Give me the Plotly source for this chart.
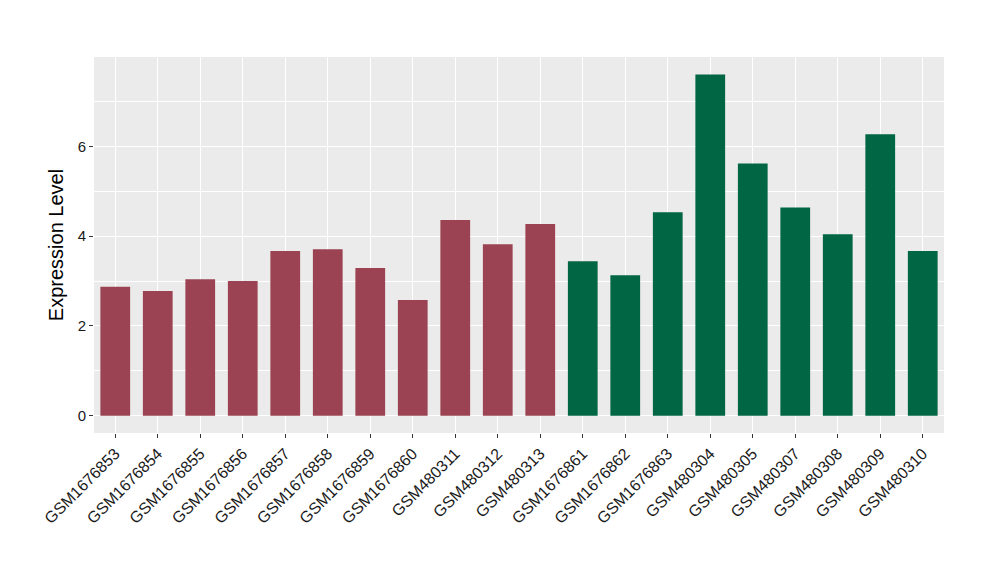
import plotly.graph_objects as go

samples = ["GSM1676853","GSM1676854","GSM1676855","GSM1676856","GSM1676857","GSM1676858",
           "GSM1676859","GSM1676860","GSM480311","GSM480312","GSM480313","GSM1676861",
           "GSM1676862","GSM1676863","GSM480304","GSM480305","GSM480307","GSM480308",
           "GSM480309","GSM480310"]
values = [2.87, 2.78, 3.04, 3.00, 3.67, 3.71, 3.29, 2.58, 4.36, 3.82, 4.27,
          3.44, 3.13, 4.53, 7.60, 5.62, 4.64, 4.04, 6.27, 3.67]
groups = ["A"] * 11 + ["B"] * 9
group_colors = {"A": "#9B4352", "B": "#006644"}

fig = go.Figure()
fig.add_trace(go.Bar(
    x=samples, y=values, width=0.7,
    marker=dict(color=[group_colors[g] for g in groups], line=dict(width=0)),
    showlegend=False,
))
fig.update_layout(
    width=1000, height=580,
    margin=dict(l=86, r=64, t=49, b=155),
    paper_bgcolor="white", plot_bgcolor="#EBEBEB",
    font=dict(family="Liberation Sans, Arial, sans-serif", color="black"),
    bargap=0.3,
)
fig.update_xaxes(
    type="category", tickangle=-45, tickfont=dict(size=16, color="#1A1A1A"),
    showgrid=True, gridcolor="white", gridwidth=1.2,
    ticks="outside", ticklen=4, tickcolor="#333333", tickwidth=1,
    showline=False, zeroline=False, range=[-0.5, 19.5], automargin=False,
)
fig.update_yaxes(
    range=[-0.385, 7.99], tickvals=[0, 2, 4, 6], ticktext=["0", "2", "4", "6"],
    tickfont=dict(size=15, color="#1A1A1A"),
    showgrid=True, gridcolor="white", gridwidth=1.2,
    minor=dict(tickvals=[1, 3, 5, 7], showgrid=True, gridcolor="white", gridwidth=0.6, ticks=""),
    ticks="outside", ticklen=4, tickcolor="#333333", tickwidth=1,
    zeroline=False, showline=False, automargin=False,
    title=dict(text="Expression Level", font=dict(size=20, color="black"), standoff=8),
)
fig.write_html("out.html")
